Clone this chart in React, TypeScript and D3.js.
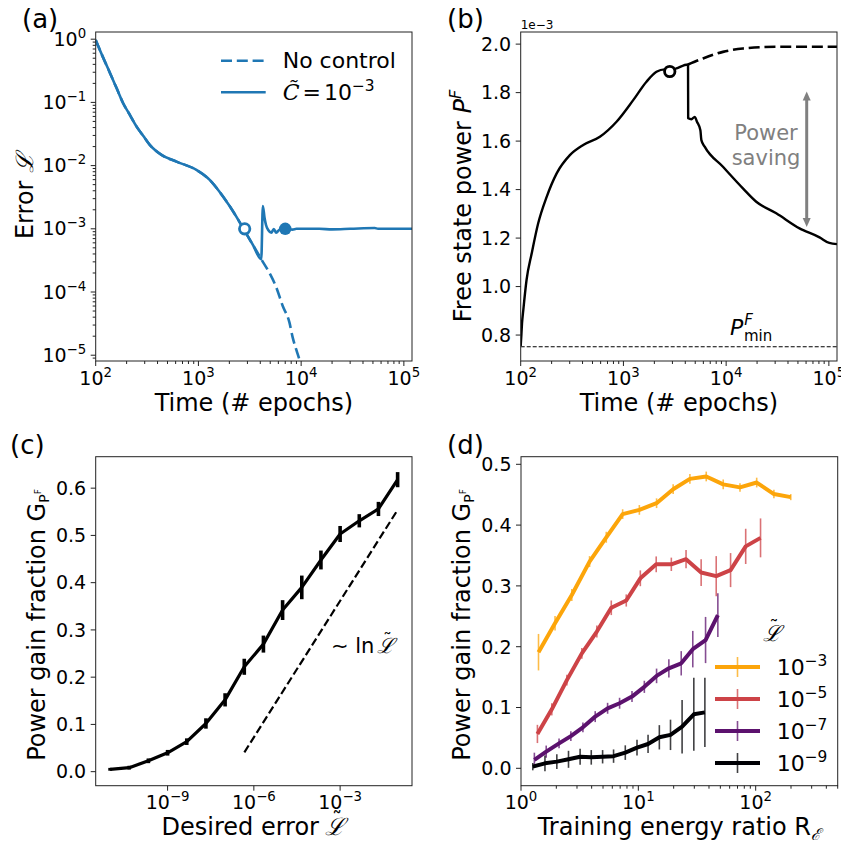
import React from 'react';
import * as d3 from 'd3';

const FONT = 'DejaVu Sans';
const BLUE = '#1f77b4';

// ---------- (a) training error vs. time ----------
const errTimeShared = [100, 117, 138, 160, 185, 215, 250, 290, 336, 437, 611, 955, 1288, 1735, 2339, 2757, 3390, 4090];
const errShared = [0.97, 0.53, 0.29, 0.167, 0.097, 0.0634, 0.0414, 0.0297, 0.0213, 0.0148, 0.01156, 0.00855, 0.00594, 0.00324, 0.00156, 0.000986, 0.000556, 0.000331];
const errTimeNoControl = [5000, 5715, 6620, 7690, 8280, 9000, 9620, 10500];
const errNoControl = [0.00019, 0.00012, 0.00006, 0.000033, 0.000019, 0.000012, 0.0000085, 0.000005];
const errTimeControl = [4240, 4400, 4550, 4800, 5120, 5420, 5715, 6150, 6930, 8240, 9000, 15000, 20000, 30000, 52000, 56000, 120000];
const errControl = [0.0023, 0.0015, 0.00115, 0.00095, 0.00087, 0.00099, 0.00087, 0.00097, 0.00101, 0.00097, 0.001, 0.001, 0.00098, 0.001, 0.00103, 0.001, 0.001];
const errOpenMark = [2820, 0.001];
const errFilledMark = [7000, 0.001];

// ---------- (b) free state power (units of 1e-3) ----------
const powTimeShared = [100, 101.5, 103, 106, 114, 128, 148, 179, 224, 301, 406, 590, 857, 1245, 1676, 2097, 2524, 2825, 3282, 4256];
const powShared = [0.755, 0.8, 0.848, 0.903, 1.027, 1.137, 1.261, 1.37, 1.467, 1.542, 1.584, 1.618, 1.68, 1.769, 1.845, 1.886, 1.896, 1.89, 1.9, 1.916];
const powTimeControl = [4270, 4592, 4945, 5200, 5614, 5740, 6180, 9310, 14560, 19640, 30750, 51800, 81100, 101000, 122000];
const powControl = [1.694, 1.69, 1.7, 1.68, 1.645, 1.604, 1.577, 1.494, 1.405, 1.35, 1.302, 1.24, 1.203, 1.18, 1.175];
const powTimeNoControl = [4256, 5960, 9310, 14560, 30750, 122000];
const powNoControl = [1.916, 1.941, 1.968, 1.982, 1.989, 1.989];
const powOpenMark = [2825, 1.887];
const powMin = 0.752;
const powerArrow = [1.25, 1.8];

// ---------- (c) power gain vs. desired error ----------
const desiredExp = [-11, -10.333, -9.667, -9, -8.333, -7.667, -7, -6.333, -5.667, -5, -4.333, -3.667, -3, -2.333, -1.667, -1];
const gainMean = [0.005, 0.0085, 0.023, 0.04, 0.0635, 0.102, 0.152, 0.222, 0.27, 0.342, 0.39, 0.448, 0.503, 0.531, 0.556, 0.618];
const gainErr = [0.003, 0.004, 0.005, 0.006, 0.007, 0.011, 0.014, 0.017, 0.018, 0.021, 0.025, 0.02, 0.017, 0.014, 0.015, 0.016];
const guideExp = [-6.33, -1];
const guideGain = [0.041, 0.554];

// ---------- (d) power gain vs. training energy ratio ----------
const ratio3 = [1.41, 1.95, 2.71, 3.84, 5.33, 7.35, 10.2, 14.3, 19.8, 27.5, 37.9, 52.9, 73.5, 102, 143, 199];
const gain3 = [0.191, 0.2385, 0.285, 0.34, 0.38, 0.418, 0.425, 0.436, 0.459, 0.476, 0.48, 0.467, 0.462, 0.47, 0.451, 0.446];
const err3 = [0.03, 0.012, 0.01, 0.009, 0.009, 0.008, 0.008, 0.008, 0.008, 0.008, 0.008, 0.008, 0.007, 0.008, 0.007, 0.005];
const ratio5 = [1.38, 1.83, 2.46, 3.3, 4.43, 5.88, 7.89, 10.4, 14.2, 19.1, 25.5, 34.3, 46.1, 61.1, 82.2, 110];
const gain5 = [0.0565, 0.097, 0.145, 0.189, 0.225, 0.264, 0.276, 0.3125, 0.3355, 0.3355, 0.344, 0.322, 0.316, 0.326, 0.365, 0.379];
const err5 = [0.015, 0.01, 0.009, 0.009, 0.01, 0.012, 0.01, 0.013, 0.013, 0.011, 0.015, 0.022, 0.033, 0.028, 0.029, 0.032];
const ratio7 = [1.3, 1.64, 2.11, 2.66, 3.37, 4.29, 5.47, 6.92, 8.83, 11.25, 14.3, 18.2, 23.2, 29.1, 37.4, 47.6];
const gain7 = [0.0137, 0.0274, 0.041, 0.053, 0.0674, 0.085, 0.0987, 0.107, 0.118, 0.134, 0.152, 0.1645, 0.1727, 0.196, 0.211, 0.252];
const err7 = [0.012, 0.01, 0.008, 0.008, 0.008, 0.009, 0.009, 0.009, 0.009, 0.01, 0.012, 0.015, 0.02, 0.03, 0.038, 0.036];
const ratio9 = [1.26, 1.6, 2.02, 2.54, 3.19, 3.97, 4.96, 6.15, 7.74, 9.74, 12.1, 15.1, 18.8, 23.6, 29.7, 36.9];
const gain9 = [0.0027, 0.0082, 0.011, 0.0148, 0.019, 0.018, 0.019, 0.02, 0.0258, 0.034, 0.04, 0.051, 0.055, 0.0685, 0.0888, 0.092];
const err9 = [0.006, 0.013, 0.012, 0.014, 0.013, 0.012, 0.011, 0.011, 0.012, 0.013, 0.015, 0.02, 0.025, 0.044, 0.06, 0.057];
const seriesLabels = ['−3', '−5', '−7', '−9'];
const seriesColors = ['#fca50a', '#cd4347', '#5c126e', '#000004'];

type Frame = { x0: number; x1: number; y0: number; y1: number };
const FA: Frame = { x0: 95.7, x1: 412, y0: 32, y1: 361 };
const FB: Frame = { x0: 520.7, x1: 837, y0: 32, y1: 361 };
const FC: Frame = { x0: 95.7, x1: 412, y0: 456.7, y1: 785.7 };
const FD: Frame = { x0: 521, x1: 837.7, y0: 456.7, y1: 785.7 };

const TICK = 19;
const LABEL = 24;

function logTicks(lo: number, hi: number) {
  const majors: number[] = [];
  const minors: number[] = [];
  for (let k = Math.floor(Math.log10(lo)); k <= Math.ceil(Math.log10(hi)); k++) {
    for (let m = 1; m < 10; m++) {
      const v = m * Math.pow(10, k);
      if (v < lo * 0.9999 || v > hi * 1.0001) continue;
      (m === 1 ? majors : minors).push(v);
    }
  }
  return { majors, minors };
}

function expText(v: number) {
  const k = Math.round(Math.log10(v));
  return (k < 0 ? '−' : '') + Math.abs(k);
}

// script L with a tilde drawn above it; x is the left edge of the letter
function TildeL({ x, y, size }: { x: number; y: number; size: number }) {
  return (
    <g>
      <text x={x} y={y} fontSize={size} fontFamily="DejaVu Serif" fontStyle="italic">ℒ</text>
      <text x={x + 0.5 * size} y={y - 0.33 * size} textAnchor="middle" fontSize={size * 0.85} fontFamily={FONT}>˜</text>
    </g>
  );
}

function Pow10({ x, y, exp, anchor, size }: { x: number; y: number; exp: string; anchor: string; size: number }) {
  return (
    <text x={x} y={y} textAnchor={anchor} fontSize={size} fontFamily={FONT}>
      10<tspan dy={-0.42 * size} fontSize={size * 0.7}>{exp}</tspan>
    </text>
  );
}

function Box({ f }: { f: Frame }) {
  return <rect x={f.x0} y={f.y0} width={f.x1 - f.x0} height={f.y1 - f.y0} fill="none" stroke="#222" strokeWidth={1} />;
}

function XTicks({ f, pos, len }: { f: Frame; pos: number[]; len: number }) {
  return <g>{pos.map((p, i) => <line key={i} x1={p} x2={p} y1={f.y1} y2={f.y1 + len} stroke="#222" strokeWidth={1} />)}</g>;
}
function YTicks({ f, pos, len }: { f: Frame; pos: number[]; len: number }) {
  return <g>{pos.map((p, i) => <line key={i} x1={f.x0 - len} x2={f.x0} y1={p} y2={p} stroke="#222" strokeWidth={1} />)}</g>;
}

function LogXAxis({ f, s, only }: { f: Frame; s: d3.ScaleLogarithmic<number, number>; only?: number[] }) {
  const [lo, hi] = s.domain();
  const t = logTicks(lo, hi);
  const majors = only ?? t.majors;
  const minors = only ? [] : t.minors;
  return (
    <g>
      <XTicks f={f} pos={minors.map(s)} len={3} />
      <XTicks f={f} pos={majors.map(s)} len={5} />
      {majors.map((v, i) => <Pow10 key={i} x={s(v)} y={f.y1 + 23.5} exp={expText(v)} anchor="middle" size={TICK} />)}
    </g>
  );
}

function LogYAxis({ f, s }: { f: Frame; s: d3.ScaleLogarithmic<number, number> }) {
  const [lo, hi] = s.domain();
  const t = logTicks(lo, hi);
  return (
    <g>
      <YTicks f={f} pos={t.minors.map(s)} len={3} />
      <YTicks f={f} pos={t.majors.map(s)} len={5} />
      {t.majors.map((v, i) => <Pow10 key={i} x={f.x0 - 9.5} y={s(v) + 6.5} exp={expText(v)} anchor="end" size={TICK} />)}
    </g>
  );
}

function LinYAxis({ f, s, ticks }: { f: Frame; s: d3.ScaleLinear<number, number>; ticks: number[] }) {
  return (
    <g>
      <YTicks f={f} pos={ticks.map(s)} len={5} />
      {ticks.map((v, i) => (
        <text key={i} x={f.x0 - 9.5} y={s(v) + 6.8} textAnchor="end" fontSize={TICK} fontFamily={FONT}>{v.toFixed(1)}</text>
      ))}
    </g>
  );
}

function PanelTag({ x, y, t }: { x: number; y: number; t: string }) {
  return <text x={x} y={y} fontSize={26} fontFamily={FONT}>{t}</text>;
}

function YLabel({ x, y, children }: { x: number; y: number; children: React.ReactNode }) {
  return (
    <text transform={`translate(${x},${y}) rotate(-90)`} textAnchor="middle" fontSize={LABEL} fontFamily={FONT}>{children}</text>
  );
}

function PanelA() {
  const x = d3.scaleLog().domain([100, 1.2e5]).range([FA.x0, FA.x1]);
  const y = d3.scaleLog().domain([8.1e-6, 1.3]).range([FA.y1, FA.y0]);
  const line = d3.line<[number, number]>().x(d => x(d[0])).y(d => y(d[1])).curve(d3.curveMonotoneX);
  const shared = errTimeShared.map((t, i) => [t, errShared[i]] as [number, number]);
  const noCtl = shared.concat(errTimeNoControl.map((t, i) => [t, errNoControl[i]] as [number, number]));
  const ctl = shared.concat(errTimeControl.map((t, i) => [t, errControl[i]] as [number, number]));
  return (
    <g>
      <defs>
        <clipPath id="clipA"><rect x={FA.x0} y={FA.y0} width={FA.x1 - FA.x0} height={FA.y1 - FA.y0} /></clipPath>
      </defs>
      <g clipPath="url(#clipA)">
        <path d={line(noCtl) ?? ''} fill="none" stroke={BLUE} strokeWidth={2.6} strokeDasharray="11,4.8" />
        <path d={line(ctl) ?? ''} fill="none" stroke={BLUE} strokeWidth={2.6} strokeLinejoin="round" />
        <circle cx={x(errOpenMark[0])} cy={y(errOpenMark[1])} r={5.2} fill="#fff" stroke={BLUE} strokeWidth={2.8} />
        <circle cx={x(errFilledMark[0])} cy={y(errFilledMark[1])} r={6.2} fill={BLUE} />
      </g>
      <Box f={FA} />
      <LogXAxis f={FA} s={x} />
      <LogYAxis f={FA} s={y} />
      <text x={(FA.x0 + FA.x1) / 2} y={411} textAnchor="middle" fontSize={LABEL} fontFamily={FONT}>Time (# epochs)</text>
      <YLabel x={33} y={196}>Error <tspan fontFamily="DejaVu Serif" fontStyle="italic">ℒ</tspan></YLabel>
      <PanelTag x={22} y={28} t="(a)" />
      {/* legend */}
      <line x1={221} x2={265.7} y1={60.7} y2={60.7} stroke={BLUE} strokeWidth={2.6} strokeDasharray="11,4.8" />
      <text x={282.7} y={68.3} fontSize={22} fontFamily={FONT}>No control</text>
      <line x1={221} x2={265.7} y1={92.3} y2={92.3} stroke={BLUE} strokeWidth={2.6} />
      <text x={282.7} y={100} fontSize={22} fontFamily={FONT}>
        <tspan fontFamily="DejaVu Serif" fontStyle="italic">C̃</tspan>
        <tspan dx={3}>=</tspan>
        <tspan dx={3}>10</tspan>
        <tspan dy={-9} fontSize={15.4}>−3</tspan>
      </text>
    </g>
  );
}

function PanelB() {
  const x = d3.scaleLog().domain([100, 1.2e5]).range([FB.x0, FB.x1]);
  const y = d3.scaleLinear().domain([0.693, 2.05]).range([FB.y1, FB.y0]);
  const line = d3.line<[number, number]>().x(d => x(d[0])).y(d => y(d[1])).curve(d3.curveMonotoneX);
  const shared = powTimeShared.map((t, i) => [t, powShared[i]] as [number, number]);
  const ctl = shared.concat(powTimeControl.map((t, i) => [t, powControl[i]] as [number, number]));
  const noCtl = powTimeNoControl.map((t, i) => [t, powNoControl[i]] as [number, number]);
  const ax = 806.7;
  const ya = y(powerArrow[1]);
  const yb = y(powerArrow[0]);
  return (
    <g>
      <defs>
        <clipPath id="clipB"><rect x={FB.x0} y={FB.y0} width={FB.x1 - FB.x0} height={FB.y1 - FB.y0} /></clipPath>
      </defs>
      <g clipPath="url(#clipB)">
        <line x1={FB.x0} x2={FB.x1} y1={y(powMin)} y2={y(powMin)} stroke="#000" strokeWidth={1.1} strokeDasharray="4,2" />
        <path d={line(noCtl) ?? ''} fill="none" stroke="#000" strokeWidth={2.6} strokeDasharray="11,4.8" />
        <path d={line(ctl) ?? ''} fill="none" stroke="#000" strokeWidth={2.4} strokeLinejoin="round" />
        <circle cx={x(powOpenMark[0])} cy={y(powOpenMark[1])} r={5.2} fill="#fff" stroke="#000" strokeWidth={2.8} />
      </g>
      {/* power saving arrow */}
      <line x1={ax} x2={ax} y1={ya + 6} y2={yb - 6} stroke="#808080" strokeWidth={3} />
      <path d={`M${ax},${ya - 1} L${ax - 4},${ya + 8} L${ax + 4},${ya + 8} Z`} fill="#808080" />
      <path d={`M${ax},${yb + 1} L${ax - 4},${yb - 8} L${ax + 4},${yb - 8} Z`} fill="#808080" />
      <text x={766} y={140} textAnchor="middle" fontSize={21} fontFamily={FONT} fill="#808080">Power</text>
      <text x={766} y={165} textAnchor="middle" fontSize={21} fontFamily={FONT} fill="#808080">saving</text>
      <text x={730} y={335} fontSize={22} fontFamily={FONT}>
        <tspan fontStyle="italic">P</tspan>
        <tspan dx={1} dy={-10} fontSize={15} fontStyle="italic">F</tspan>
        <tspan dx={-9} dy={16} fontSize={15}>min</tspan>
      </text>
      <Box f={FB} />
      <LogXAxis f={FB} s={x} />
      <LinYAxis f={FB} s={y} ticks={[0.8, 1.0, 1.2, 1.4, 1.6, 1.8, 2.0]} />
      <text x={FB.x0} y={29} fontSize={12} fontFamily={FONT}>1e−3</text>
      <text x={(FB.x0 + FB.x1) / 2} y={411} textAnchor="middle" fontSize={LABEL} fontFamily={FONT}>Time (# epochs)</text>
      <YLabel x={471} y={206}>
        Free state power <tspan fontStyle="italic">P</tspan><tspan dy={-10} fontSize={16} fontStyle="italic">F</tspan>
      </YLabel>
      <PanelTag x={447} y={28} t="(b)" />
    </g>
  );
}

function GainLabel({ x, y }: { x: number; y: number }) {
  return (
    <YLabel x={x} y={y}>
      Power gain fraction G<tspan dy={4} fontSize={14}>P</tspan><tspan dy={-8} fontSize={9}>F</tspan>
    </YLabel>
  );
}

function PanelC() {
  const x = d3.scaleLog().domain([Math.pow(10, -11.5), Math.pow(10, -0.5)]).range([FC.x0, FC.x1]);
  const y = d3.scaleLinear().domain([-0.0297, 0.6666]).range([FC.y1, FC.y0]);
  const pts = desiredExp.map((e, i) => [Math.pow(10, e), gainMean[i]] as [number, number]);
  const line = d3.line<[number, number]>().x(d => x(d[0])).y(d => y(d[1]));
  const guide = guideExp.map((e, i) => [Math.pow(10, e), guideGain[i]] as [number, number]);
  const majors = [1e-9, 1e-6, 1e-3];
  return (
    <g>
      <path d={line(guide) ?? ''} fill="none" stroke="#000" strokeWidth={2.2} strokeDasharray="8,3.5" />
      <path d={line(pts) ?? ''} fill="none" stroke="#000" strokeWidth={3.2} strokeLinejoin="round" />
      {pts.map((p, i) => (
        <line key={i} x1={x(p[0])} x2={x(p[0])} y1={y(p[1] - gainErr[i])} y2={y(p[1] + gainErr[i])} stroke="#000" strokeWidth={3.6} />
      ))}
      <text x={331} y={653} fontSize={21} fontFamily={FONT}>∼ ln</text>
      <TildeL x={377} y={653} size={21} />
      <Box f={FC} />
      <LogXAxis f={FC} s={x} only={majors} />
      <LinYAxis f={FC} s={y} ticks={[0, 0.1, 0.2, 0.3, 0.4, 0.5, 0.6]} />
      <text x={319} y={835} textAnchor="end" fontSize={LABEL} fontFamily={FONT}>Desired error</text>
      <TildeL x={325} y={835} size={LABEL} />
      <GainLabel x={45} y={625} />
      <PanelTag x={10} y={454} t="(c)" />
    </g>
  );
}

function PanelD() {
  const x = d3.scaleLog().domain([1, 500]).range([FD.x0, FD.x1]);
  const y = d3.scaleLinear().domain([-0.0286, 0.5125]).range([FD.y1, FD.y0]);
  const line = d3.line<[number, number]>().x(d => x(d[0])).y(d => y(d[1]));
  const series = [
    { r: ratio3, g: gain3, e: err3 },
    { r: ratio5, g: gain5, e: err5 },
    { r: ratio7, g: gain7, e: err7 },
    { r: ratio9, g: gain9, e: err9 },
  ];
  const legendY = [667, 699, 731, 763];
  return (
    <g>
      {series.map((s, k) => {
        const pts = s.r.map((r, i) => [r, s.g[i]] as [number, number]);
        return (
          <g key={k}>
            <path d={line(pts) ?? ''} fill="none" stroke={seriesColors[k]} strokeWidth={4} strokeLinejoin="round" />
            {pts.map((p, i) => (
              <line key={i} x1={x(p[0])} x2={x(p[0])} y1={y(p[1] - s.e[i])} y2={y(p[1] + s.e[i])} stroke={seriesColors[k]} strokeOpacity={0.75} strokeWidth={1.6} />
            ))}
          </g>
        );
      })}
      {/* legend */}
      <TildeL x={763} y={641} size={22} />
      {seriesLabels.map((lab, k) => (
        <g key={k}>
          <line x1={715} x2={760} y1={legendY[k]} y2={legendY[k]} stroke={seriesColors[k]} strokeWidth={4} />
          <line x1={737.5} x2={737.5} y1={legendY[k] - 10} y2={legendY[k] + 10} stroke={seriesColors[k]} strokeOpacity={0.75} strokeWidth={1.6} />
          <Pow10 x={776.7} y={legendY[k] + 8} exp={lab} anchor="start" size={22} />
        </g>
      ))}
      <Box f={FD} />
      <LogXAxis f={FD} s={x} />
      <LinYAxis f={FD} s={y} ticks={[0, 0.1, 0.2, 0.3, 0.4, 0.5]} />
      <text x={(FD.x0 + FD.x1) / 2} y={835} textAnchor="middle" fontSize={LABEL} fontFamily={FONT}>
        Training energy ratio R<tspan dy={5} fontSize={16} fontFamily="DejaVu Serif" fontStyle="italic">ℰ</tspan>
      </text>
      <GainLabel x={470} y={625} />
      <PanelTag x={447} y={454} t="(d)" />
    </g>
  );
}

export default function App() {
  return (
    <svg width={841} height={846} viewBox="0 0 841 846" style={{ position: 'absolute', left: 0, top: 0, background: '#fff' }}>
      <rect x={0} y={0} width={841} height={846} fill="#fff" />
      <PanelA />
      <PanelB />
      <PanelC />
      <PanelD />
    </svg>
  );
}
